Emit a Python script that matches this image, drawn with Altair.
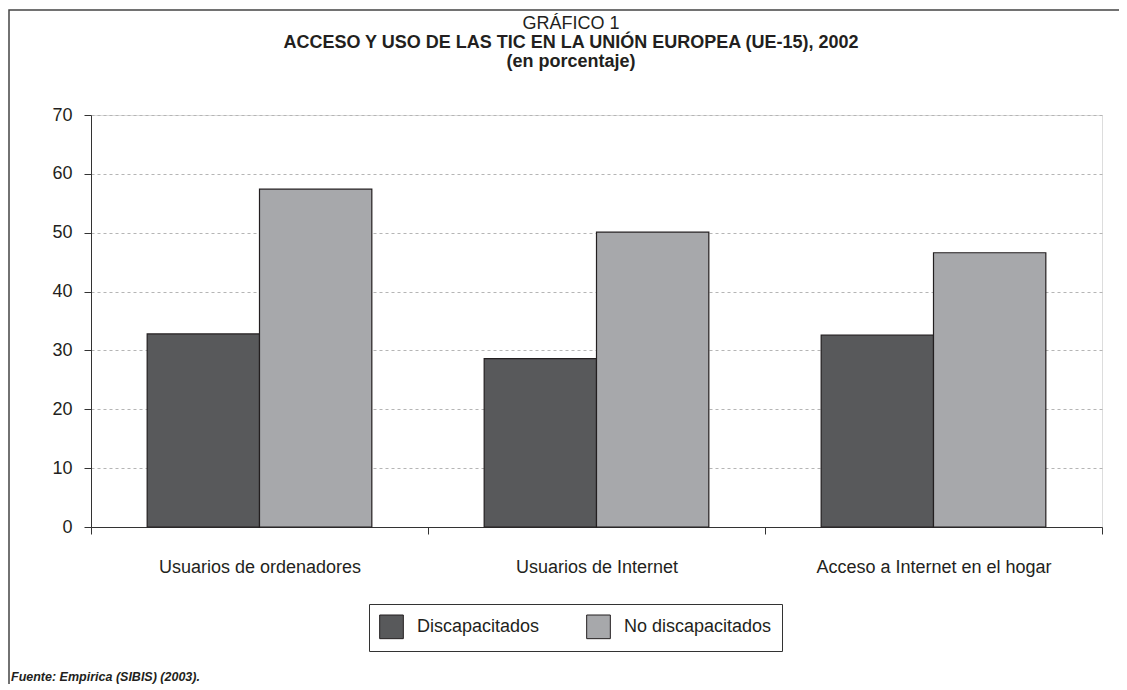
import altair as alt
import pandas as pd

categories = ["Usuarios de ordenadores", "Usuarios de Internet", "Acceso a Internet en el hogar"]
series = ["Discapacitados", "No discapacitados"]
discapacitados = [32.8, 28.6, 32.6]
no_discapacitados = [57.4, 50.1, 46.6]
y_ticks = [0, 10, 20, 30, 40, 50, 60, 70]
colors = ["#58595b", "#a7a8ab"]

title_line = "GRÁFICO 1"
subtitle_lines = ["ACCESO Y USO DE LAS TIC EN LA UNIÓN EUROPEA (UE-15), 2002", "(en porcentaje)"]
source_text = "Fuente: Empirica (SIBIS) (2003)."

rows = []
for c, d, n in zip(categories, discapacitados, no_discapacitados):
    rows.append({"cat": c, "grupo": series[0], "valor": d})
    rows.append({"cat": c, "grupo": series[1], "valor": n})
df = pd.DataFrame(rows)

FONT = "Liberation Sans"
INK = "#231f20"
W, H = 1011, 412
PAD_L, PAD_T, PAD_R, PAD_B = 83, 107, 17, 157

bars = alt.Chart(df).mark_bar(stroke=INK, strokeWidth=1.2).encode(
    x=alt.X("cat:N", sort=categories,
            scale=alt.Scale(paddingInner=0, paddingOuter=0),
            axis=alt.Axis(title=None, labelAngle=0, tickBand="extent", tickSize=7,
                          labelPadding=24, labelFontSize=18, labelFont=FONT,
                          labelColor=INK, domainColor="#333", tickColor="#333",
                          grid=False, labelLimit=400)),
    xOffset=alt.XOffset("grupo:N", sort=series,
                        scale=alt.Scale(paddingInner=0, paddingOuter=0.5)),
    y=alt.Y("valor:Q", scale=alt.Scale(domain=[0, 70], nice=False),
            axis=alt.Axis(title=None, values=y_ticks, tickSize=7, labelPadding=12,
                          labelFontSize=18, labelFont=FONT, labelColor=INK,
                          grid=True, gridDash=[3, 3], gridColor="#b5b5b5",
                          domainColor="#333", tickColor="#333")),
    color=alt.Color("grupo:N", sort=series,
                    scale=alt.Scale(domain=series, range=colors),
                    legend=alt.Legend(title=None, orient="none", legendX=278, legendY=489,
                                      direction="horizontal", symbolType="square",
                                      symbolSize=560, symbolStrokeColor=INK,
                                      symbolStrokeWidth=1, labelFontSize=18,
                                      labelFont=FONT, labelColor=INK, labelOffset=13,
                                      columnPadding=44, padding=10,
                                      strokeColor="#333", fillColor="white")),
)

frame = alt.Chart(pd.DataFrame({"k": [0]})).mark_rect(
    fillOpacity=0, stroke="#444", strokeWidth=1.5, clip=False
).encode(
    x=alt.value(-82), x2=alt.value(W + 200),
    y=alt.value(-105), y2=alt.value(H + 300),
)


def text_line(txt, y, weight):
    return alt.Chart(pd.DataFrame({"t": [txt]})).mark_text(
        align="center", baseline="middle", font=FONT, fontSize=18,
        fontWeight=weight, color=INK, clip=False
    ).encode(x=alt.value(480), y=alt.value(y), text="t:N")


title_mark = text_line(title_line, -91, "normal")
sub1 = text_line(subtitle_lines[0], -72, "bold")
sub2 = text_line(subtitle_lines[1], -53, "bold")

source = alt.Chart(pd.DataFrame({"t": [source_text]})).mark_text(
    align="left", baseline="middle", font=FONT, fontSize=12.5,
    fontWeight="bold", fontStyle="italic", color=INK, clip=False
).encode(
    x=alt.value(-80), y=alt.value(562), text="t:N"
)

chart = alt.layer(frame, bars, title_mark, sub1, sub2, source).properties(
    width=W, height=H,
    autosize=alt.AutoSizeParams(type="none"),
    padding={"left": PAD_L, "top": PAD_T, "right": PAD_R, "bottom": PAD_B},
).configure_view(
    fill="#e5e6e8", stroke="#333", strokeWidth=1.5
).configure(background="white")

chart.save("out.html", embed_options={"renderer": "svg", "actions": False})
